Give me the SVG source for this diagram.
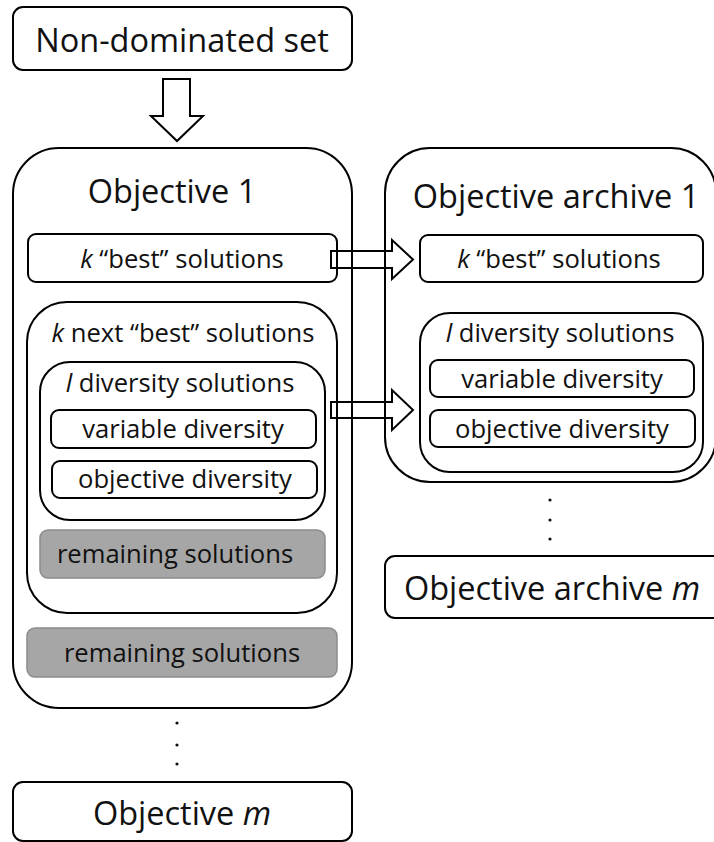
<svg xmlns="http://www.w3.org/2000/svg" width="714" height="842" viewBox="0 0 714 842">
<style>
text{font-family:"Open Sans","Noto Sans","Liberation Sans",sans-serif;fill:#111;text-anchor:middle}
.box{fill:none;stroke:#000;stroke-width:2}
.gray{fill:#a6a6a6;stroke:#8c8c8c;stroke-width:1.5}
.arr{fill:#fff;stroke:#000;stroke-width:2;stroke-linejoin:miter}
.big{font-size:32.5px}
.mid{font-size:25.6px}
.it{font-style:italic}
</style>
<rect width="714" height="842" fill="#fff"/>
<g id="connectors">
<path class="arr" d="M163,79 H190 V116 H203 L177,141 L151,116 H163 Z"/>
<path class="arr" d="M331,251 H392 V240 L413,259.5 L392,279 V268 H331 Z"/>
<path class="arr" d="M331,402 H392 V390 L413,410 L392,430 V418 H331 Z"/>
</g>
<g id="nondominated">
<rect class="box" x="13" y="7" width="339" height="63" rx="10"/>
<text class="big" x="182" y="52">Non-dominated set</text>
</g>
<g id="objective1">
<rect class="box" x="13" y="148" width="339" height="560" rx="46"/>
<text class="big" x="172" y="203">Objective 1</text>
</g>
<g id="kbest1">
<rect class="box" x="28" y="234" width="309" height="48" rx="8"/>
<text class="mid" x="182" y="268"><tspan class="it">k</tspan> “best” solutions</text>
</g>
<g id="knext1">
<rect class="box" x="27" y="302" width="310" height="311" rx="40"/>
<text class="mid" x="183" y="342"><tspan class="it">k</tspan> next “best” solutions</text>
</g>
<g id="ldiv1">
<rect class="box" x="40" y="362" width="285" height="158" rx="30"/>
<text class="mid" x="180" y="392"><tspan class="it">l</tspan> diversity solutions</text>
</g>
<g id="vardiv1">
<rect class="box" x="51" y="410" width="265" height="38" rx="8"/>
<text class="mid" x="183" y="438">variable diversity</text>
</g>
<g id="objdiv1">
<rect class="box" x="52" y="461" width="265" height="37" rx="8"/>
<text class="mid" x="185" y="488">objective diversity</text>
</g>
<g id="remaining1">
<rect class="gray" x="40" y="530" width="285" height="48" rx="8"/>
<text class="mid" x="175" y="563">remaining solutions</text>
</g>
<g id="remaining2">
<rect class="gray" x="27" y="628" width="310" height="49" rx="8"/>
<text class="mid" x="182" y="662">remaining solutions</text>
</g>
<g id="dots1">
<circle cx="177" cy="723" r="1.6" fill="#111"/>
<circle cx="177" cy="745" r="1.6" fill="#111"/>
<circle cx="177" cy="764" r="1.6" fill="#111"/>
</g>
<g id="objectivem">
<rect class="box" x="13" y="782" width="339" height="59" rx="10"/>
<text class="big" x="182" y="825">Objective <tspan class="it">m</tspan></text>
</g>
<g id="archive1">
<rect class="box" x="385" y="148" width="331" height="334" rx="45"/>
<text class="big" x="556" y="208">Objective archive 1</text>
</g>
<g id="kbest2">
<rect class="box" x="420" y="235" width="283" height="47" rx="8"/>
<text class="mid" x="559" y="268"><tspan class="it">k</tspan> “best” solutions</text>
</g>
<g id="ldiv2">
<rect class="box" x="420" y="313" width="283" height="159" rx="30"/>
<text class="mid" x="560" y="342"><tspan class="it">l</tspan> diversity solutions</text>
</g>
<g id="vardiv2">
<rect class="box" x="430" y="360" width="264" height="37" rx="8"/>
<text class="mid" x="562" y="388">variable diversity</text>
</g>
<g id="objdiv2">
<rect class="box" x="430" y="410" width="265" height="37" rx="8"/>
<text class="mid" x="562" y="438">objective diversity</text>
</g>
<g id="dots2">
<circle cx="550" cy="500" r="1.6" fill="#111"/>
<circle cx="550" cy="520" r="1.6" fill="#111"/>
<circle cx="550" cy="539" r="1.6" fill="#111"/>
</g>
<g id="archivem">
<rect class="box" x="385" y="556" width="345" height="62" rx="10"/>
<text class="big" x="552" y="600">Objective archive <tspan class="it">m</tspan></text>
</g>
</svg>
